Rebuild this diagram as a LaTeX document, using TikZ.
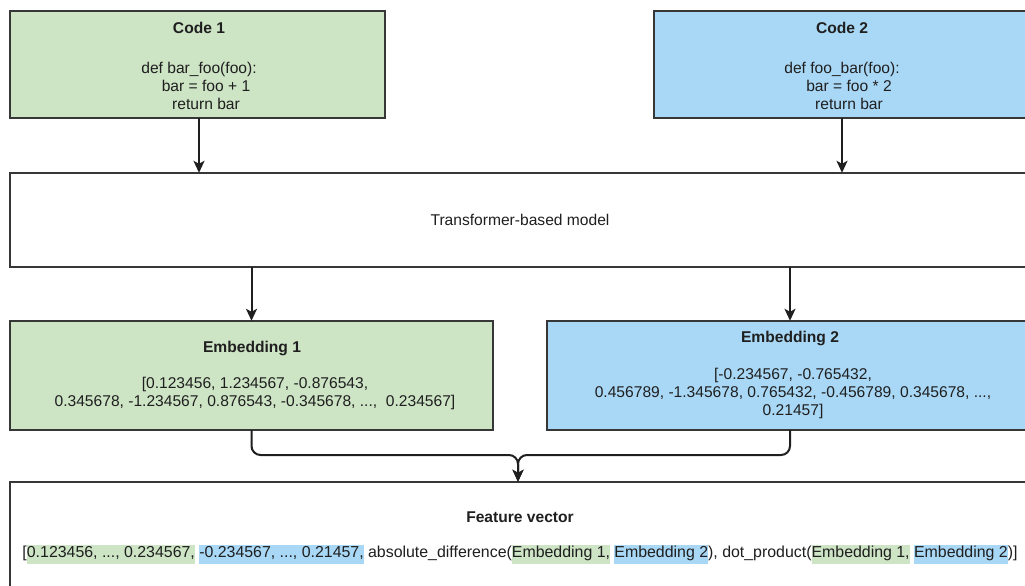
\documentclass[tikz,border=0pt]{standalone}
\usepackage{fontspec}
\setmainfont{Liberation Sans}
\usetikzlibrary{arrows.meta,calc}
\definecolor{gfill}{RGB}{205,228,197}
\definecolor{bfill}{RGB}{169,216,246}
\definecolor{edge}{RGB}{55,55,55}
\newcommand\hlg[1]{{\setlength\fboxsep{0pt}\colorbox{gfill}{\strut #1}}}
\newcommand\hlb[1]{{\setlength\fboxsep{0pt}\colorbox{bfill}{\strut #1}}}
\begin{document}
\begin{tikzpicture}[x=1pt,y=-1pt,
  box/.style={draw=edge,line width=1.4pt},
  txt/.style={inner sep=0pt,align=center,font=\fontsize{15.6}{18}\selectfont,text=black!88},
  ttl/.style={txt,font=\fontsize{15.6}{18}\selectfont\bfseries},
  arr/.style={line width=2pt,draw=black!88,-{Stealth[length=12pt,width=11pt,inset=3pt]}},
  ]
\useasboundingbox (0,0) rectangle (1025,586);
\begin{scope}
\clip (0,0) rectangle (1025,586);
% boxes
\path[box,fill=gfill] (10,11) rectangle (385,118);
\node[inner sep=0pt,minimum width=375pt,minimum height=107pt] (code1) at (197.5,64.5) {};
\path[box,fill=bfill] (654,11) rectangle (1030,118);
\node[inner sep=0pt,minimum width=376pt,minimum height=107pt] (code2) at (842,64.5) {};
\path[box,fill=white] (10,173) rectangle (1030,267);
\node[inner sep=0pt,minimum width=1020pt,minimum height=94pt] (trans) at (520,220) {};
\path[box,fill=gfill] (10,321) rectangle (493,430);
\node[inner sep=0pt,minimum width=483pt,minimum height=109pt] (emb1) at (251.5,375.5) {};
\path[box,fill=bfill] (547,321) rectangle (1033,430);
\node[inner sep=0pt,minimum width=486pt,minimum height=109pt] (emb2) at (790,375.5) {};
\path[box,fill=white] (10,482) rectangle (1030,620);
\node[inner sep=0pt,minimum width=1020pt,minimum height=138pt] (feat) at (520,551) {};
\end{scope}

% texts
\node[ttl] (c1t) at (199,28) {Code 1};
\node[txt] (c1c) at (199,86) {def bar\_foo(foo):\\\hspace*{14pt}bar = foo + 1\\\hspace*{14pt}return bar};
\node[ttl] (c2t) at (842,28) {Code 2};
\node[txt] (c2c) at (842,86) {def foo\_bar(foo):\\\hspace*{14pt}bar = foo * 2\\\hspace*{14pt}return bar};
\node[txt] (tt) at (520,220) {Transformer-based model};
\node[ttl] (e1t) at (252,348) {Embedding 1};
\node[txt] (e1c) at (255,393) {[0.123456, 1.234567, -0.876543,\\0.345678, -1.234567, 0.876543, -0.345678, ...,\ \ 0.234567]};
\node[ttl] (e2t) at (790,338) {Embedding 2};
\node[txt] (e2c) at (793,393) {[-0.234567, -0.765432,\\0.456789, -1.345678, 0.765432, -0.456789, 0.345678, ...,\\0.21457]};
\node[ttl] (ft) at (520,517) {Feature vector};
\node[txt,font=\fontsize{15.9}{19}\selectfont] (fc) at (520,554) {[\hlg{0.123456, ..., 0.234567,} \hlb{-0.234567, ..., 0.21457,} absolute\_difference(\hlg{Embedding 1,} \hlb{Embedding 2}), dot\_product(\hlg{Embedding 1,} \hlb{Embedding 2})]};

% connectors
\coordinate (a1) at (199,0);
\draw[arr] (code1.south -| a1) -- (trans.north -| a1);
\draw[arr] (code2.south) -- (code2.south |- trans.north);
\draw[arr] (emb1.north |- trans.south) -- (emb1.north);
\draw[arr] (emb2.north |- trans.south) -- (emb2.north);
\coordinate (m) at (518,455);
\draw[arr,rounded corners=9pt] (emb1.south) |- (m) -- (feat.north -| m);
\draw[arr,rounded corners=9pt] (emb2.south) |- (m) -- (feat.north -| m);
\end{tikzpicture}
\end{document}
